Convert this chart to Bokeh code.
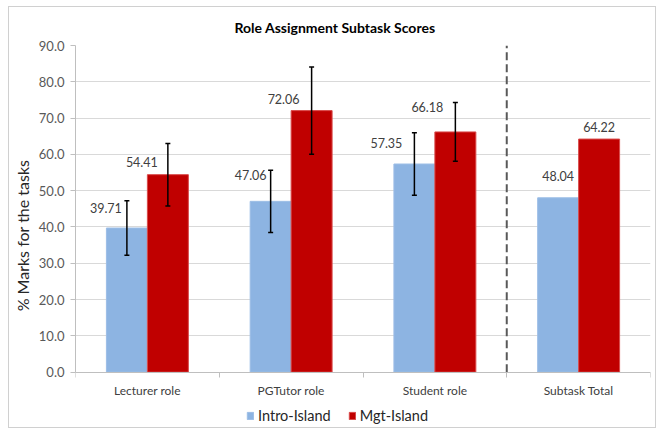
from bokeh.plotting import figure
from bokeh.models import (ColumnDataSource, FixedTicker, Whisker, TeeHead, LabelSet,
                          Legend, LegendItem, Range1d, NumeralTickFormatter)
from bokeh.core.properties import value
from bokeh.transform import dodge
from bokeh.embed import file_html
from bokeh.resources import INLINE

# ---- data ----
categories = ["Lecturer role", "PGTutor role", "Student role", "Subtask Total"]
intro_island = [39.71, 47.06, 57.35, 48.04]
mgt_island = [54.41, 72.06, 66.18, 64.22]
intro_err = [7.5, 8.6, 8.6, None]
mgt_err = [8.6, 12.0, 8.1, None]
y_ticks = [0, 10, 20, 30, 40, 50, 60, 70, 80, 90]
series_names = ["Intro-Island", "Mgt-Island"]

# ---- style ----
FONT = "Lato"
BLUE = "#8DB4E2"
RED = "#C00000"
TXT = "#595959"
# label offsets in screen px (style only)
intro_lbl_dx = [-21, -20, -28, 0]
intro_lbl_dy = [20, 26, 21, 22]
mgt_lbl_dx = [-26, -28, -28, 0]
mgt_lbl_dy = [13, 12, 25, 12]

n = len(categories)
centers = [i + 0.5 for i in range(n)]
bounds = [float(i) for i in range(n + 1)]
W = 0.285
OFF = W / 2

src = ColumnDataSource(dict(
    x=centers, intro=intro_island, mgt=mgt_island,
    intro_txt=[f"{v:.2f}" for v in intro_island],
    mgt_txt=[f"{v:.2f}" for v in mgt_island],
    idx=intro_lbl_dx, idy=intro_lbl_dy, mdx=mgt_lbl_dx, mdy=mgt_lbl_dy,
))

ex = [c for c, e in zip(centers, intro_err) if e is not None]
err_src = ColumnDataSource(dict(
    x=ex,
    intro_lo=[v - e for v, e in zip(intro_island, intro_err) if e is not None],
    intro_hi=[v + e for v, e in zip(intro_island, intro_err) if e is not None],
    mgt_lo=[v - e for v, e in zip(mgt_island, mgt_err) if e is not None],
    mgt_hi=[v + e for v, e in zip(mgt_island, mgt_err) if e is not None],
))

# frame extends below zero so the category labels and legend sit inside it
Y_LOW = -14.7
p = figure(width=648, height=422, x_range=Range1d(0, n),
           y_range=Range1d(Y_LOW, y_ticks[-1]),
           output_backend="svg", toolbar_location=None,
           min_border_left=64, min_border_right=7, min_border_top=38, min_border_bottom=4)
p.styles = {"border": "1px solid #d0d0d0", "margin-left": "8px", "margin-top": "6px"}
p.outline_line_color = None
p.background_fill_color = "white"
p.border_fill_color = "white"

p.title.text = "Role Assignment Subtask Scores"
p.title.align = "left"
p.title.vertical_align = "middle"
p.title.standoff = 18
p.title.offset = 159
p.title.text_font = FONT
p.title.text_font_size = "14px"
p.title.text_font_style = "bold"
p.title.text_color = "black"

# axes
p.yaxis.ticker = FixedTicker(ticks=y_ticks)
p.yaxis.bounds = (y_ticks[0], y_ticks[-1])
p.yaxis.formatter = NumeralTickFormatter(format="0.0")
p.yaxis.axis_label = "% Marks for the tasks"
p.yaxis.axis_label_text_font = FONT
p.yaxis.axis_label_text_font_size = "16px"
p.yaxis.axis_label_text_font_style = "normal"
p.yaxis.axis_label_text_color = "#262626"
p.yaxis.axis_label_standoff = 4
p.yaxis.major_label_text_font = FONT
p.yaxis.major_label_text_font_size = "13px"
p.yaxis.major_label_text_color = TXT
p.yaxis.major_tick_out = 5
p.yaxis.major_tick_in = 0
p.yaxis.minor_tick_line_color = None
p.yaxis.axis_line_color = "#bfbfbf"
p.yaxis.major_tick_line_color = "#bfbfbf"
p.yaxis.major_label_standoff = 6

p.xaxis.fixed_location = y_ticks[0]
p.xaxis.ticker = FixedTicker(ticks=centers, minor_ticks=bounds)
p.xaxis.major_label_overrides = {c: lab for c, lab in zip(centers, categories)}
p.xaxis.major_tick_line_color = None
p.xaxis.major_tick_out = 0
p.xaxis.minor_tick_out = 5
p.xaxis.minor_tick_in = 0
p.xaxis.minor_tick_line_color = "#bfbfbf"
p.xaxis.axis_line_color = "#bfbfbf"
p.xaxis.major_label_text_font = FONT
p.xaxis.major_label_text_font_size = "12px"
p.xaxis.major_label_text_color = "#404040"
p.xaxis.major_label_standoff = 6

p.xgrid.grid_line_color = None
p.ygrid.ticker = FixedTicker(ticks=y_ticks)
p.ygrid.grid_line_color = "#d9d9d9"

# bars
r1 = p.vbar(x=dodge("x", -OFF, range=p.x_range), top="intro", width=W, source=src,
            fill_color=BLUE, line_color="#9DBEE6", line_width=1)
r2 = p.vbar(x=dodge("x", OFF, range=p.x_range), top="mgt", width=W, source=src,
            fill_color=RED, line_color="#D94A4A", line_width=1)

# error bars
for key, off in (("intro", -OFF), ("mgt", OFF)):
    w = Whisker(source=err_src, base=dodge("x", off, range=p.x_range),
                lower=f"{key}_lo", upper=f"{key}_hi", dimension="height",
                line_color="black", line_width=1.5, level="overlay",
                upper_head=TeeHead(size=5, line_width=1.5, line_color="black"),
                lower_head=TeeHead(size=5, line_width=1.5, line_color="black"))
    p.add_layout(w)

# data labels
for key, off, dx, dy in (("intro", -OFF, "idx", "idy"), ("mgt", OFF, "mdx", "mdy")):
    ls = LabelSet(x=dodge("x", off, range=p.x_range), y=key, text=f"{key}_txt",
                  x_offset=dx, y_offset=dy, source=src,
                  text_align="center", text_baseline="middle",
                  text_font=value(FONT), text_font_size=value("12.5px"),
                  text_color="#404040")
    p.add_layout(ls)

# dashed divider between roles and total
divider = float(categories.index("Subtask Total"))
p.segment(x0=[divider], y0=[y_ticks[0]], x1=[divider], y1=[y_ticks[-1]],
          line_color="#595959", line_dash="8 4", line_width=2)

legend = Legend(items=[LegendItem(label=series_names[0], renderers=[r1]),
                       LegendItem(label=series_names[1], renderers=[r2])],
                orientation="horizontal", location=(171, 1),
                glyph_width=8, glyph_height=9, label_standoff=4, spacing=17,
                padding=0, margin=0, border_line_color=None, background_fill_alpha=0,
                label_text_font=FONT, label_text_font_size="14.5px", label_text_color="#262626")
p.add_layout(legend)

open("out.html", "w").write(file_html(p, INLINE))
